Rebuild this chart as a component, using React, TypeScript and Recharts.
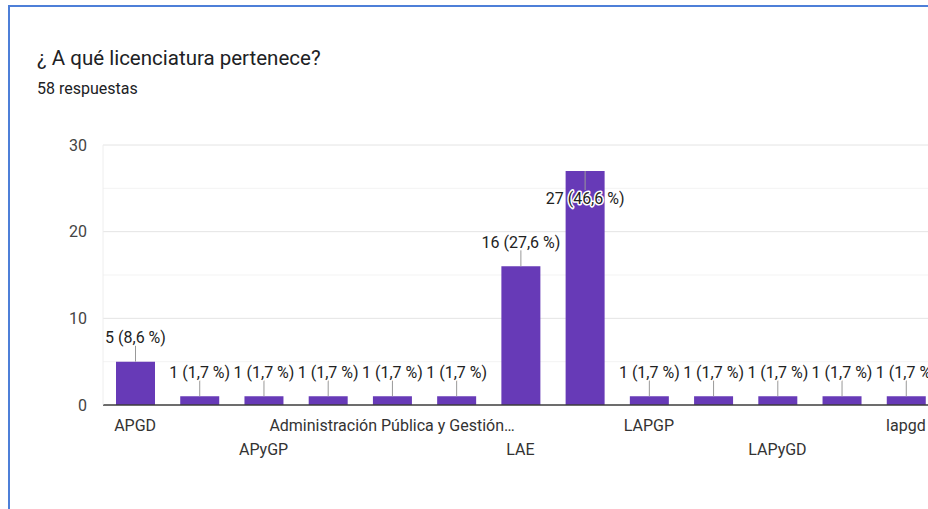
import { BarChart, Bar, XAxis, YAxis, CartesianGrid, LabelList } from 'recharts';

const categories = [
  'APGD',
  'APGP',
  'APyGP',
  'Administración Pública',
  'Administración Pública y Gestión…',
  'L.A.E.',
  'LAE',
  'LAPGD',
  'LAPGP',
  'LAPGPD',
  'LAPyGD',
  'Lapgd',
  'lapgd',
];
const counts = [5, 1, 1, 1, 1, 1, 16, 27, 1, 1, 1, 1, 1];
const yTicks = [0, 5, 10, 15, 20, 25, 30];
const yMax = 30;

const title = '¿ A qué licenciatura pertenece?';
const subtitle = '58 respuestas';

const total = counts.reduce((a, b) => a + b, 0);
const data = categories.map((name, i) => ({ name, value: counts[i] }));

const PLOT_TOP = 145;
const PLOT_BOTTOM = 405;
const FONT = 'Roboto, "Noto Sans", sans-serif';

function pct(v: number) {
  return `${v} (${((v / total) * 100).toFixed(1).replace('.', ',')} %)`;
}

// major lines every 10, lighter ones in between
function GridLine(props: any) {
  const { x1, x2, y1, y2 } = props;
  const v = Math.round(((PLOT_BOTTOM - y1) / (PLOT_BOTTOM - PLOT_TOP)) * yMax);
  if (v === 0) return null;
  const major = v % 10 === 0;
  return <line x1={x1} x2={x2} y1={y1} y2={y2} stroke={major ? '#e4e4e4' : '#f3f3f3'} strokeWidth={1} />;
}

function ValueLabel(props: any) {
  const { x, y, width, value } = props;
  const cx = x + width / 2;
  const inside = y - 40 < PLOT_TOP;
  const lineEnd = inside ? y + 19 : y - 16;
  const textY = inside ? y + 27 : y - 24;
  return (
    <g>
      <line x1={cx} x2={cx} y1={y} y2={lineEnd} stroke="#999" strokeWidth={1} />
      <text
        x={cx}
        y={textY}
        textAnchor="middle"
        dominantBaseline="central"
        fontFamily={FONT}
        fontSize={16}
        fill="#222"
        stroke="#fff"
        strokeWidth={3}
        strokeLinejoin="round"
        style={{ paintOrder: 'stroke' }}
      >
        {pct(value)}
      </text>
    </g>
  );
}

function XTick(props: any) {
  const { x, y, payload } = props;
  const idx = props.index ?? payload.index;
  if (idx % 2 !== 0) return null;
  const row = (idx / 2) % 2;
  return (
    <text
      x={x}
      y={y + 20 + row * 24}
      textAnchor="middle"
      dominantBaseline="central"
      fontFamily={FONT}
      fontSize={16}
      fill="#333"
    >
      {payload.value}
    </text>
  );
}

function YTick(props: any) {
  const { y, payload } = props;
  if (payload.value % 10 !== 0) return null;
  return (
    <text
      x={87}
      y={y}
      textAnchor="end"
      dominantBaseline="central"
      fontFamily={FONT}
      fontSize={16}
      fill="#444"
    >
      {payload.value}
    </text>
  );
}

export default function App() {
  return (
    <div
      style={{
        position: 'absolute',
        left: 0,
        top: 0,
        width: 928,
        height: 509,
        overflow: 'hidden',
        background: '#fff',
      }}
    >
      <div
        style={{
          position: 'absolute',
          left: 8,
          top: 5,
          width: 1000,
          height: 1000,
          borderLeft: '2px solid #4d7fd8',
          borderTop: '2px solid #4d7fd8',
        }}
      />
      <div
        style={{
          position: 'absolute',
          left: 37,
          top: 46,
          fontFamily: FONT,
          fontSize: 20.5,
          color: '#202124',
          whiteSpace: 'nowrap',
          lineHeight: '24px',
        }}
      >
        {title}
      </div>
      <div
        style={{
          position: 'absolute',
          left: 37,
          top: 79,
          fontFamily: FONT,
          fontSize: 16,
          color: '#202124',
          whiteSpace: 'nowrap',
          lineHeight: '20px',
        }}
      >
        {subtitle}
      </div>
      <div style={{ position: 'absolute', left: 0, top: 0 }}>
        <BarChart
          width={1000}
          height={509}
          data={data}
          margin={{ top: 145, right: 62, left: 63, bottom: 44 }}
        >
          <CartesianGrid vertical={false} horizontal={(p: any) => <GridLine key={p.key ?? p.y1} {...p} />} />
          <XAxis
            dataKey="name"
            interval={0}
            height={60}
            tickLine={false}
            tickSize={0}
            tickMargin={0}
            axisLine={{ stroke: '#3c3c3c', strokeWidth: 1.5 }}
            tick={<XTick />}
          />
          <YAxis
            width={40}
            domain={[0, 30]}
            ticks={yTicks}
            tickLine={false}
            axisLine={{ stroke: '#eeeeee' }}
            tick={<YTick />}
          />
          <Bar dataKey="value" fill="#673ab7" barSize={39} isAnimationActive={false}>
            <LabelList dataKey="value" content={<ValueLabel />} />
          </Bar>
        </BarChart>
      </div>
    </div>
  );
}
